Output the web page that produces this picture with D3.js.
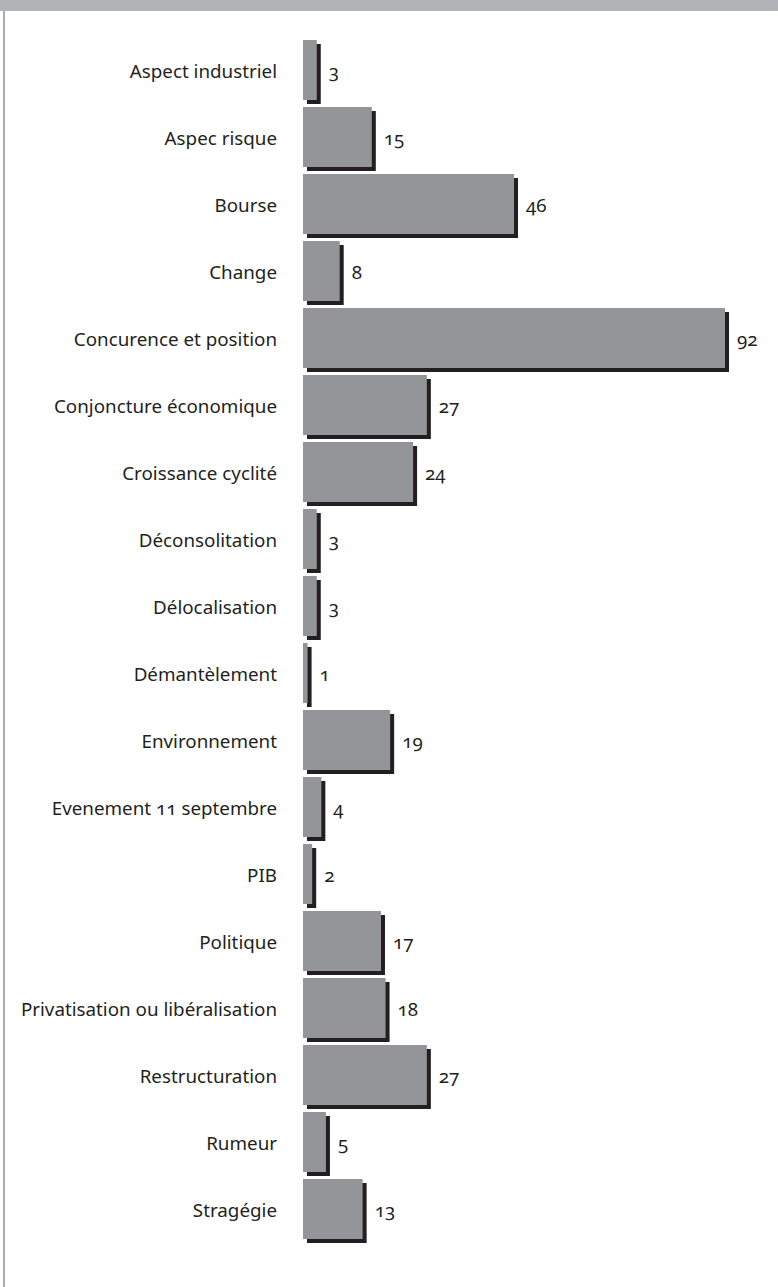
<!DOCTYPE html>
<html>
<head>
<meta charset="utf-8">
<script src="https://cdn.jsdelivr.net/npm/d3@7"></script>
<style>
  html, body { margin: 0; padding: 0; background: #fff; }
  svg { display: block; }
  text { font-family: "Noto Sans", sans-serif; fill: #231f20; font-feature-settings: "onum" 1; }
</style>
</head>
<body>
<svg id="chart" width="778" height="1287"></svg>
<script>
// Thèmes cités et nombre d'occurrences
const categories = [
  "Aspect industriel", "Aspec risque", "Bourse", "Change",
  "Concurence et position", "Conjoncture économique", "Croissance cyclité",
  "Déconsolitation", "Délocalisation", "Démantèlement", "Environnement",
  "Evenement 11 septembre", "PIB", "Politique",
  "Privatisation ou libéralisation", "Restructuration", "Rumeur", "Stragégie"
];
const values = [3, 15, 46, 8, 92, 27, 24, 3, 3, 1, 19, 4, 2, 17, 18, 27, 5, 13];

const W = 778, H = 1287;
const svg = d3.select("#chart");

// bandeau supérieur et filet gauche
svg.append("rect").attr("x", 0).attr("y", 0).attr("width", W).attr("height", 11).attr("fill", "#b1b3b6");
svg.append("line").attr("x1", 4).attr("x2", 4).attr("y1", 11).attr("y2", H)
  .attr("stroke", "#8f9194").attr("stroke-width", 1.5);

const data = categories.map((c, i) => ({ c, v: values[i] }));

const y = d3.scaleBand()
  .domain(categories)
  .range([40, 40 + 67 * categories.length - 7])
  .paddingInner(7 / 67)
  .paddingOuter(0);

const x = d3.scaleLinear().domain([0, 92]).range([303, 725]);

const shadow = 4;
const g = svg.append("g");

// ombres portées
g.selectAll("rect.shadow").data(data).join("rect")
  .attr("class", "shadow")
  .attr("x", x(0) + shadow)
  .attr("y", d => y(d.c) + shadow)
  .attr("width", d => x(d.v) - x(0))
  .attr("height", y.bandwidth())
  .attr("fill", "#231f20");

// barres
g.selectAll("rect.bar").data(data).join("rect")
  .attr("class", "bar")
  .attr("x", x(0))
  .attr("y", d => y(d.c))
  .attr("width", d => x(d.v) - x(0))
  .attr("height", y.bandwidth())
  .attr("fill", "#939598");

// libellés des catégories
g.selectAll("text.cat").data(data).join("text")
  .attr("class", "cat")
  .attr("x", 277)
  .attr("y", d => y(d.c) + y.bandwidth() / 2 + 1)
  .attr("dy", "0.35em")
  .attr("text-anchor", "end")
  .attr("font-size", 18.8)
  .text(d => d.c);

// valeurs
g.selectAll("text.val").data(data).join("text")
  .attr("class", "val")
  .attr("x", d => x(d.v) + 12)
  .attr("y", d => y(d.c) + y.bandwidth() / 2 + 1)
  .attr("dy", "0.35em")
  .attr("font-size", 18.8)
  .text(d => d.v);
</script>
</body>
</html>
